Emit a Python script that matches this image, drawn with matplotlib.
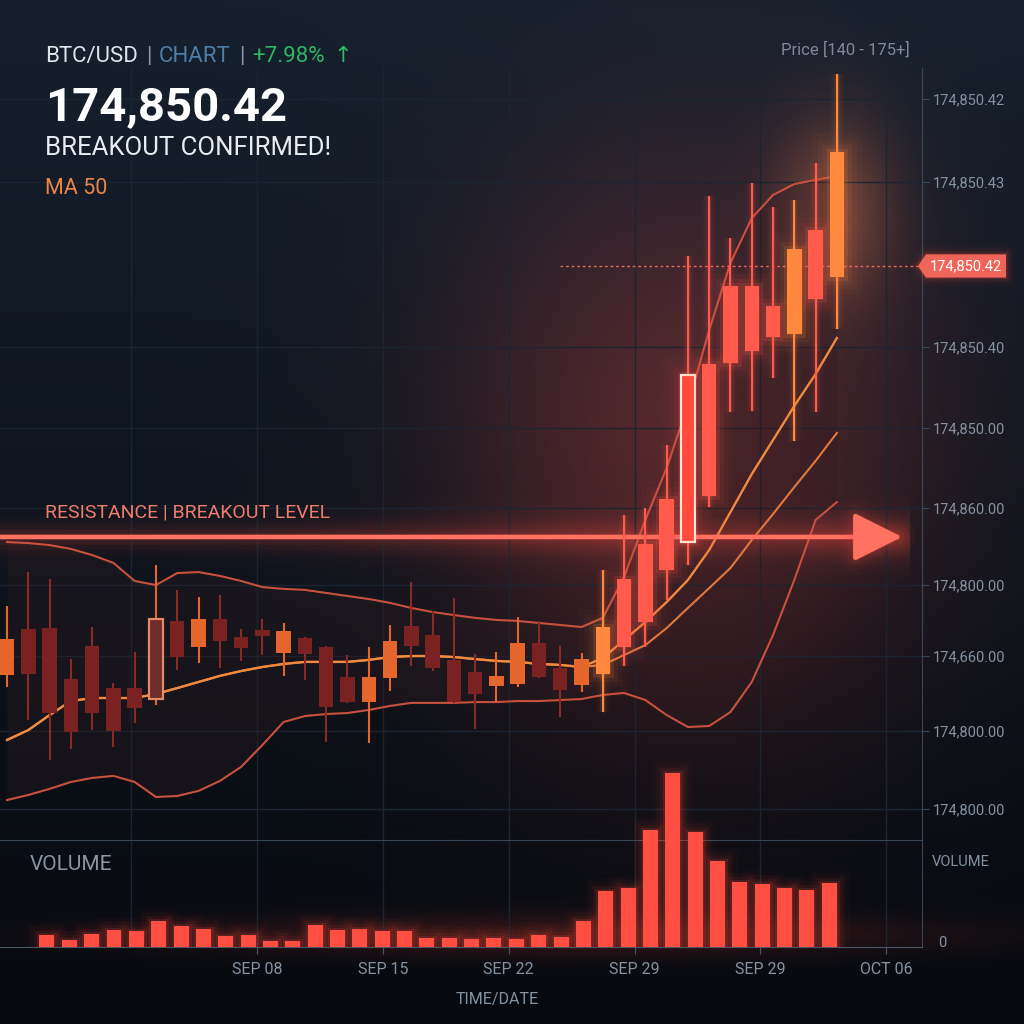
import numpy as np
import matplotlib
matplotlib.use("Agg")
import matplotlib.pyplot as plt
from matplotlib import patheffects as pe
from matplotlib.patches import Rectangle, Polygon
from matplotlib.lines import Line2D
from matplotlib.transforms import blended_transform_factory

plt.rcParams['font.family'] = ['Roboto', 'DejaVu Sans']

# ---- price data (thousands USD) ----
opens = [146.61, 148.87, 148.92, 146.41, 148.04, 145.96, 145.96, 145.42, 149.27, 147.99,
         149.37, 148.48, 148.82, 147.69, 148.43, 147.99, 146.51, 145.27, 146.46, 149.02,
         148.58, 147.34, 146.75, 146.06, 146.16, 148.18, 146.95, 146.11, 146.65, 147.99,
         149.22, 151.78, 153.16, 155.43, 161.99, 162.58, 163.27, 163.42, 165.14, 166.23]
highs = [150.01, 151.68, 151.34, 147.39, 148.97, 146.21, 147.74, 152.03, 150.80, 150.45,
         150.55, 148.87, 149.37, 149.17, 148.50, 148.05, 147.59, 147.99, 149.07, 151.19,
         149.76, 150.40, 147.64, 147.74, 149.46, 149.27, 148.04, 147.69, 151.78, 154.49,
         154.84, 157.94, 167.26, 170.22, 168.15, 170.86, 169.68, 170.02, 171.84, 176.23]
lows = [146.01, 144.39, 142.42, 142.96, 143.89, 143.06, 144.24, 145.13, 146.85, 147.20,
        146.95, 147.30, 147.59, 146.56, 146.36, 143.30, 145.20, 143.25, 145.82, 147.05,
        146.80, 145.22, 143.94, 145.27, 146.01, 146.45, 144.54, 145.77, 144.78, 147.05,
        147.99, 150.30, 152.03, 154.89, 159.57, 159.62, 161.25, 158.14, 159.57, 163.66]
closes = [148.38, 146.65, 144.73, 143.80, 144.73, 143.85, 144.98, 149.37, 147.49, 149.37,
          148.28, 147.94, 148.53, 148.77, 147.64, 145.03, 145.27, 146.51, 148.28, 148.04,
          146.95, 145.27, 145.67, 146.56, 148.18, 146.51, 145.87, 147.39, 148.97, 151.34,
          153.06, 155.28, 161.39, 161.94, 165.78, 165.78, 164.80, 167.61, 168.54, 172.39]

upper_band = [153.16, 153.11, 153.01, 152.82, 152.52, 152.13, 151.24, 151.04, 151.63, 151.68,
              151.49, 151.24, 150.94, 150.85, 150.80, 150.65, 150.50, 150.35, 150.16, 149.91,
              149.71, 149.56, 149.42, 149.32, 149.27, 149.17, 149.07, 148.97, 149.42, 151.44,
              154.25, 156.81, 159.92, 163.61, 166.92, 169.13, 170.27, 170.81, 171.01, 171.20]
lower_band = [140.44, 140.69, 140.99, 141.33, 141.53, 141.63, 141.33, 140.59, 140.64, 140.89,
              141.38, 142.07, 143.15, 144.29, 144.58, 144.68, 144.73, 144.88, 145.08, 145.23,
              145.23, 145.23, 145.27, 145.27, 145.32, 145.32, 145.37, 145.42, 145.62, 145.72,
              145.37, 144.63, 144.04, 144.09, 144.78, 146.26, 148.58, 151.29, 154.25, 155.13]
ma_fast = [143.40, 143.89, 144.63, 145.32, 145.47, 145.47, 145.47, 145.67, 145.96, 146.26,
           146.56, 146.80, 147.00, 147.15, 147.25, 147.25, 147.25, 147.35, 147.49, 147.54,
           147.54, 147.49, 147.39, 147.30, 147.25, 147.15, 147.10, 147.00, 147.44, 148.33,
           149.22, 150.20, 151.29, 152.77, 154.64, 156.51, 158.19, 159.87, 161.44, 163.22]
ma_slow = [143.40, 143.89, 144.63, 145.32, 145.47, 145.47, 145.47, 145.67, 145.96, 146.26,
           146.56, 146.80, 147.00, 147.15, 147.25, 147.25, 147.25, 147.35, 147.49, 147.54,
           147.54, 147.49, 147.39, 147.30, 147.25, 147.15, 147.10, 147.00, 147.10, 147.59,
           148.08, 148.92, 149.91, 150.89, 151.88, 153.26, 154.54, 155.87, 157.16, 158.54]

volumes = [12, 7, 13, 17, 16, 26, 21, 18, 11, 12, 6, 6, 22, 17, 18, 16, 16, 9, 9, 8,
           9, 8, 12, 10, 26, 56, 59, 117, 174, 115, 86, 65, 63, 59, 57, 64]

price_ticks = [175.0, 170.91, 162.77, 158.78, 154.84, 151.04, 147.54, 143.85, 140.0]
price_labels = ["174,850.42", "174,850.43", "174,850.40", "174,850.00", "174,860.00",
                "174,800.00", "174,660.00", "174,800.00", "174,800.00"]
date_labels = ["SEP 08", "SEP 15", "SEP 22", "SEP 29", "SEP 29", "OCT 06"]
resistance = 153.41
last_price = 166.77

W = H = 1024
fig = plt.figure(figsize=(10.24, 10.24), dpi=100)

# ---- background gradient + glow ----
yy, xx = np.mgrid[0:H, 0:W].astype(float)
t = (yy / H)[..., None]
top = np.array([0x16, 0x20, 0x2d]) / 255
bot = np.array([0x06, 0x09, 0x0e]) / 255
bg = top * (1 - t) + bot * t
red = np.array([1.0, 0.25, 0.17])
g1 = np.exp(-(((xx - 690) / 160) ** 2 + ((yy - 440) / 190) ** 2) / 2) * 0.28
g2 = np.exp(-((yy - 537) / 16) ** 2 / 2) * np.clip(xx / 900, 0.25, 1) * (xx < 910) * 0.2
g3 = np.exp(-(((xx - 835) / 40) ** 2 + ((yy - 210) / 65) ** 2) / 2) * 0.3
g4 = np.exp(-(((xx - 560) / 260) ** 2 + ((yy - 935) / 14) ** 2) / 2) * 0.18
bg = bg + (g1 + g2 + g4)[..., None] * red + g3[..., None] * np.array([1.0, 0.45, 0.2])
bg = np.clip(bg, 0, 1)
ax_bg = fig.add_axes([0, 0, 1, 1], zorder=-5)
ax_bg.imshow(bg, aspect='auto', extent=[0, 1, 0, 1], origin='upper')
ax_bg.axis('off')

grid_c = '#1b2532'
spine_c = '#3a4756'
label_c = '#8592a1'

# ---- price axes ----
ax = fig.add_axes([0, 1 - 840 / H, 922 / W, (840 - 68) / H])
ax.set_facecolor('none')
ax.set_xlim(-0.33, 43.0)
ax.set_ylim(138.47, 176.53)
for s in ['top', 'left']:
    ax.spines[s].set_visible(False)
ax.spines['right'].set_color(spine_c)
ax.spines['bottom'].set_color(spine_c)
ax.yaxis.tick_right()
ax.set_yticks(price_ticks, price_labels)
ax.tick_params(axis='y', colors=spine_c, labelcolor=label_c, labelsize=10.5, length=5, pad=3)
ax.set_xticks([])
ax.grid(axis='y', color=grid_c, lw=1)
ax.set_axisbelow(True)

n = len(opens)
idx = np.arange(n)

ax.fill_between(idx, lower_band, upper_band, color='#2e1c22', alpha=0.35, lw=0, zorder=1)


def glow(col, scale=1.0):
    return [pe.Stroke(linewidth=26 * scale, foreground=col, alpha=0.025),
            pe.Stroke(linewidth=18 * scale, foreground=col, alpha=0.04),
            pe.Stroke(linewidth=11 * scale, foreground=col, alpha=0.07),
            pe.Stroke(linewidth=5 * scale, foreground=col, alpha=0.15),
            pe.Normal()]


ax.plot(idx, upper_band, color='#c8503f', lw=1.5, zorder=2)
ax.plot(idx, lower_band, color='#c8503f', lw=1.5, zorder=2)
ax.plot(idx, ma_slow, color='#e2783a', lw=1.5, zorder=2)
ax.plot(idx, ma_fast, color='#f08a3e', lw=1.7, zorder=2)

# resistance / breakout level
ax.annotate('', xy=(42.06, resistance), xytext=(-0.33, resistance),
            arrowprops=dict(arrowstyle='-|>,head_length=0.4,head_width=0.2', mutation_scale=75,
                            color='#ff7262', lw=3.2, shrinkA=0, shrinkB=0,
                            path_effects=glow('#ff5040', 1.0)), zorder=3)

orange_rally = {28, 37, 39}
for i in range(n):
    o, h, l, c = opens[i], highs[i], lows[i], closes[i]
    rally = i >= 28
    if rally:
        col = '#ff8a3e' if i in orange_rally else '#ff5a4b'
        wick = col
        effects = glow(col)
        wick_fx = glow(col, 0.4)
    else:
        col = '#e5662c' if c >= o else '#7a2222'
        wick = '#e5662c' if c >= o else '#8a2a26'
        effects = None
        wick_fx = None
    ax.vlines(i, l, h, color=wick, lw=1.5, zorder=4, path_effects=wick_fx)
    edge = 'none'
    face = col
    if i == 7:
        face, edge = '#6e2b2a', '#e58a68'
    if i == 32:
        face, edge = '#ff4a3c', '#ffe2d4'
    rect = Rectangle((i - 0.34, min(o, c)), 0.68, abs(c - o), facecolor=face,
                     edgecolor=edge, lw=1.6, zorder=5)
    if effects:
        rect.set_path_effects(effects)
    ax.add_patch(rect)

# last price marker
ax.hlines(last_price, 26, 43.0, colors='#e8665a', lw=1, linestyles=(0, (2, 2)), zorder=3)
tr = blended_transform_factory(ax.transAxes, ax.transData)
ax.add_patch(Polygon([(0.9957, last_price), (1.0043, last_price + 0.57), (1.0911, last_price + 0.57),
                      (1.0911, last_price - 0.57), (1.0043, last_price - 0.57)],
                     closed=True, transform=tr, facecolor='#f0645a', edgecolor='none',
                     clip_on=False, zorder=6, path_effects=glow('#ff5040', 0.5)))
ax.text(1.0477, last_price, "174,850.42", transform=tr, color='white', fontsize=10.5,
        ha='center', va='center', zorder=7)

# ---- volume axes ----
ax_v = fig.add_axes([0, 1 - 947 / H, 922 / W, 187 / H])
ax_v.set_facecolor('none')
vx = np.arange(len(volumes))
ax_v.set_xlim(-2.10, 39.15)
ax_v.set_ylim(0, 187)
bars = ax_v.bar(vx, volumes, width=0.67, color='#ff4f42', zorder=3)
for b in bars:
    b.set_path_effects(glow('#ff4d40', 0.7))
for s in ['top', 'left']:
    ax_v.spines[s].set_visible(False)
ax_v.spines['bottom'].set_color('#4a5866')
ax_v.spines['right'].set_color(spine_c)
ax_v.spines['right'].set_bounds(0, 107)
ax_v.set_yticks([])
week_ticks = 9.4 + 5.63 * np.arange(len(date_labels))
ax_v.set_xticks(week_ticks, date_labels)
ax_v.tick_params(axis='x', colors='#4a5866', labelcolor=label_c, labelsize=11.5, length=5, pad=6)
ax_v.text(1.011, 85, "VOLUME", transform=blended_transform_factory(ax_v.transAxes, ax_v.transData),
          color=label_c, fontsize=10.5, va='center', ha='left')
ax_v.text(1.017, 4, "0", transform=blended_transform_factory(ax_v.transAxes, ax_v.transData),
          color=label_c, fontsize=10.5, va='center', ha='left')

# vertical grid lines through both panels
vt = blended_transform_factory(ax_v.transData, fig.transFigure)
for gx in 9.4 + 5.63 * np.arange(-1, len(date_labels)):
    fig.add_artist(Line2D([gx, gx], [1 - 947 / H, 1 - 68 / H], transform=vt, color=grid_c,
                          lw=1, zorder=-1))

# ---- texts ----
fig.text(30 / W, 1 - 870 / H, "VOLUME", color='#8a96a4', fontsize=15)
fig.text(497 / W, 1 - 1004 / H, "TIME/DATE", color=label_c, fontsize=11.5, ha='center')
fig.text(45 / W, 1 - 517 / H, "RESISTANCE | BREAKOUT LEVEL", color='#f07c6c', fontsize=14)
fig.text(845 / W, 1 - 55 / H, "Price [140 - 175+]", color='#7d8a99', fontsize=12, ha='center')

renderer = fig.canvas.get_renderer()
x = 45
for s, c in [("BTC/USD", '#dfe4ea'), ("|", '#8a95a3'), ("CHART", '#4d7ea8'), ("|", '#8a95a3'),
             ("+7.98%", '#2fb563'), ("\u2191", '#2fb563')]:
    tx = fig.text(x / W, 1 - 62 / H, s, color=c, fontsize=16, va='baseline')
    x = tx.get_window_extent(renderer=renderer).x1 + 8

fig.text(45 / W, 1 - 120 / H, "174,850.42", color='white', fontsize=34, fontweight='bold',
         va='baseline')
fig.text(45 / W, 1 - 155 / H, "BREAKOUT CONFIRMED!", color='#e8ecf0', fontsize=18.5, va='baseline')
fig.text(45 / W, 1 - 194 / H, "MA 50", color='#e8854a', fontsize=15.5, va='baseline')

fig.savefig("out.png", dpi=100)
